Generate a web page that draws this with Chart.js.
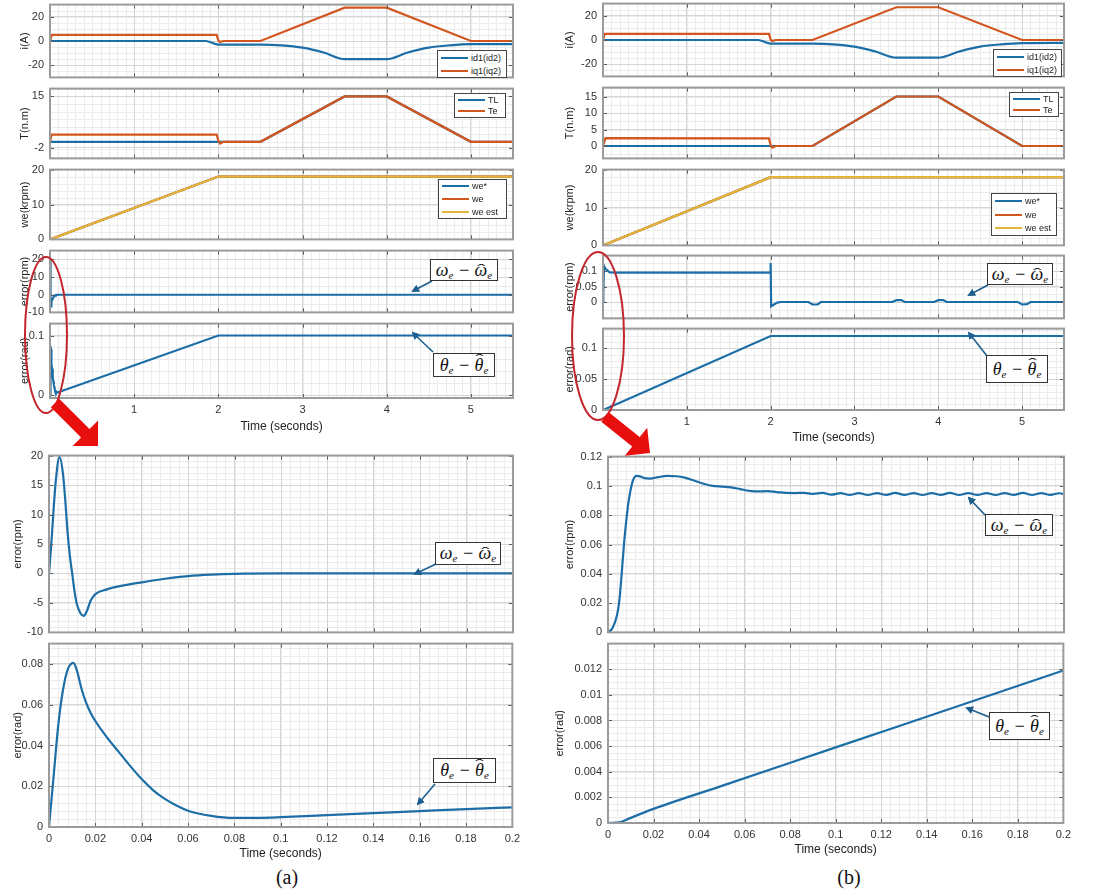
<!DOCTYPE html>
<html>
<head>
<meta charset="utf-8">
<script src="https://cdn.jsdelivr.net/npm/chart.js@4.4.1/dist/chart.umd.min.js"></script>
<style>
  body { margin: 0; width: 1105px; height: 896px; background: #fff; position: relative; overflow: hidden;
         font-family: "Liberation Sans", Arial, sans-serif; }
  canvas { position: absolute; }
  .leg { position: absolute; background: #fff; border: 1px solid #444; font-size: 9px; color: #222; box-sizing: border-box; }
  .leg div { position: absolute; left: 3px; right: 2px; height: 12px; line-height: 12px; }
  .leg i { position: absolute; left: 0; top: 5px; width: 27px; height: 2px; }
  .leg span { position: absolute; left: 30px; white-space: nowrap; }
  .eq { position: absolute; border: 1px solid #333; background: #fff; box-sizing: border-box; z-index: 3;
        font-family: "Liberation Serif", "DejaVu Serif", serif; font-style: italic; font-size: 18px; color: #111;
        text-align: center; white-space: nowrap; }
  .eq sub { font-size: 11px; vertical-align: -3px; line-height: 1; }
  .eq .h { position: relative; display: inline-block; line-height: 1; }
  .eq .h b { position: absolute; left: 0; right: 0; line-height: 1; text-align: center; font-weight: normal; font-style: normal;
             font-size: 15px; transform: scaleX(1.7); }
  .eq .hw b { top: 1px; }
  .eq .ht b { top: -4px; }
  .cap { position: absolute; font-family: "Liberation Serif", serif; font-size: 20px; color: #111; transform: translateX(-50%); }
  svg { position: absolute; left: 0; top: 0; z-index: 2; }
</style>
</head>
<body>
<script>
// ---- tick labels ----
const xTicksLong = [1, 2, 3, 4, 5];
const xTicksZoom = [0, 0.02, 0.04, 0.06, 0.08, 0.1, 0.12, 0.14, 0.16, 0.18, 0.2];

// ---- (a) full run, 0..5.5 s ----
const aId = [[0,0],[1.85,0],[2.0,-3],[2.5,-3],[2.75,-3.6],[3.0,-5.5],[3.25,-9.5],[3.5,-15],[4.0,-15],[4.25,-9.5],[4.5,-5.5],[4.75,-3.6],[5.0,-2.6],[5.5,-2.5]];
const aIq = [[0,0],[0.02,5],[1.98,5],[2.0,0.3],[2.02,-0.8],[2.06,0],[2.5,0],[3.5,27.5],[4.0,27.5],[5.0,0],[5.5,0]];
const aTL = [[0,0],[2.0,0],[2.5,0],[3.5,15],[4.0,15],[5.0,0],[5.5,0]];
const aTe = [[0,0],[0.02,2.4],[1.98,2.4],[2.0,0.3],[2.02,-0.6],[2.06,0],[2.5,0],[3.5,15],[4.0,15],[5.0,0],[5.5,0]];
const weRef = [[0,0],[2,18],[5.5,18]];
const weMeas = [[0,0],[2,18],[5.5,18]];
const weEst = [[0,0],[2,18],[5.5,18]];

// ---- (a) zoom, 0..0.2 s ----
const aErrWZoom = [[0,0],[0.001,5],[0.002,11],[0.003,16],[0.0045,19.8],[0.006,17],[0.007,12.5],[0.008,7],[0.009,3],[0.010,0],[0.011,-3],[0.012,-5.2],[0.0135,-6.7],[0.015,-7.2],[0.0165,-6.2],[0.018,-4.6],[0.02,-3.5],[0.025,-2.7],[0.03,-2.2],[0.04,-1.5],[0.05,-0.9],[0.06,-0.45],[0.07,-0.2],[0.08,-0.06],[0.1,0],[0.2,0]];
const aErrThZoom = [[0,0],[0.002,0.025],[0.004,0.05],[0.006,0.067],[0.008,0.077],[0.0105,0.0805],[0.012,0.077],[0.014,0.068],[0.016,0.061],[0.018,0.056],[0.02,0.052],[0.025,0.044],[0.03,0.037],[0.035,0.030],[0.04,0.0235],[0.045,0.018],[0.05,0.0138],[0.055,0.0105],[0.06,0.008],[0.07,0.0055],[0.08,0.0045],[0.09,0.0045],[0.1,0.0048],[0.12,0.0058],[0.14,0.0068],[0.16,0.0078],[0.18,0.0088],[0.2,0.0096]];
const aErrWLong = [...aErrWZoom, [5.5,0]];
const aErrThLong = [...aErrThZoom, [2,0.1],[5.5,0.1]];

// ---- (b) full run ----
const bId = [[0,0],[1.85,0],[2.0,-3],[2.5,-3],[2.75,-3.6],[3.0,-5.5],[3.25,-9.5],[3.5,-14.5],[4.0,-14.5],[4.25,-9.5],[4.5,-5.5],[4.75,-3.6],[5.0,-2.6],[5.5,-2.4]];
const bIq = [[0,0],[0.02,5],[1.98,5],[2.0,0.3],[2.02,-0.8],[2.06,0],[2.5,0],[3.5,27],[4.0,27],[5.0,0],[5.5,0]];
const bTL = [[0,0],[2.0,0],[2.5,0],[3.5,15],[4.0,15],[5.0,0],[5.5,0]];
const bTe = [[0,0],[0.03,2.4],[1.98,2.3],[2.0,0.3],[2.02,-0.5],[2.06,0],[2.5,0],[3.5,15],[4.0,15],[5.0,0],[5.5,0]];
const bErrWLong = [[0,0],[0.004,0.03],[0.012,0.117],[0.03,0.107],[0.08,0.096],[0.15,0.095],[1.995,0.095],[2.0,0.126],[2.006,-0.014],[2.04,-0.008],[2.08,-0.002],[2.12,0],[2.45,0],[2.5,-0.008],[2.56,-0.008],[2.6,0],[3.45,0],[3.5,0.006],[3.56,0.006],[3.6,0],[3.95,0],[4.0,0.006],[4.06,0.006],[4.1,0],[4.95,0],[5.0,-0.008],[5.06,-0.007],[5.1,0],[5.5,0]];

// ---- (b) zoom ----
const bErrWZoom = [[0,0],[0.002,0.003],[0.004,0.012],[0.005,0.022],[0.006,0.040],[0.007,0.060],[0.008,0.076],[0.009,0.089],[0.010,0.098],[0.011,0.104],[0.0125,0.1068],[0.014,0.1065],[0.016,0.1053],[0.0185,0.105],[0.022,0.106],[0.026,0.1068],[0.030,0.1066],[0.034,0.1055],[0.038,0.1035],[0.042,0.1015],[0.046,0.100],[0.05,0.0995],[0.054,0.099],[0.058,0.0978],[0.062,0.0966],[0.066,0.0962],[0.070,0.0964],[0.074,0.0958],[0.078,0.0952],[0.082,0.0951],[0.086,0.0953],[0.09,0.0946],[0.094,0.0952],[0.098,0.0940],[0.102,0.0951],[0.106,0.0939],[0.110,0.0951],[0.114,0.0938],[0.118,0.0951],[0.122,0.0939],[0.126,0.0952],[0.130,0.0939],[0.134,0.0951],[0.138,0.0938],[0.142,0.0951],[0.146,0.0939],[0.150,0.0952],[0.154,0.0938],[0.158,0.0951],[0.162,0.0939],[0.166,0.0951],[0.170,0.0938],[0.174,0.0951],[0.178,0.0939],[0.182,0.0952],[0.186,0.0938],[0.190,0.0951],[0.194,0.0939],[0.198,0.0950],[0.2,0.0944]];
const bErrThZoom = [[0,0],[0.003,0.00003],[0.006,0.0001],[0.01,0.0004],[0.02,0.0011],[0.05,0.0029],[0.1,0.0059],[0.15,0.0089],[0.2,0.0119]];
const bErrThLong = [...bErrThZoom, [2,0.12],[5.5,0.12]];

const BLUE = '#1c6ea6', ORANGE = '#d3561f', YELLOW = '#e5b53a';

Chart.defaults.font.family = '"Liberation Sans", Arial, sans-serif';

// grid, box and inward ticks in the style of a scope plot
const scopeAxes = {
  id: 'scopeAxes',
  beforeDraw(chart, args, o) {
    const { ctx, chartArea: a, scales: { x, y } } = chart;
    ctx.save();
    ctx.fillStyle = '#fff';
    ctx.fillRect(a.left, a.top, a.width, a.height);
    ctx.strokeStyle = '#ececec';
    ctx.lineWidth = 1;
    ctx.beginPath();
    for (let i = Math.ceil(x.min / o.mx); i * o.mx < x.max; i++) {
      const p = Math.round(x.getPixelForValue(i * o.mx)) + 0.5;
      ctx.moveTo(p, a.top); ctx.lineTo(p, a.bottom);
    }
    for (let i = Math.ceil(y.min / o.my); i * o.my < y.max; i++) {
      const p = Math.round(y.getPixelForValue(i * o.my)) + 0.5;
      ctx.moveTo(a.left, p); ctx.lineTo(a.right, p);
    }
    ctx.stroke();
    ctx.restore();
  },
  afterDraw(chart) {
    const { ctx, chartArea: a, scales: { x, y } } = chart;
    ctx.save();
    ctx.strokeStyle = '#5a5a5a';
    ctx.lineWidth = 1;
    ctx.beginPath();
    x.ticks.forEach(t => {
      const p = Math.round(x.getPixelForValue(t.value)) + 0.5;
      ctx.moveTo(p, a.bottom); ctx.lineTo(p, a.bottom - 4);
      ctx.moveTo(p, a.top); ctx.lineTo(p, a.top + 4);
    });
    y.ticks.forEach(t => {
      const p = Math.round(y.getPixelForValue(t.value)) + 0.5;
      ctx.moveTo(a.left, p); ctx.lineTo(a.left + 4, p);
      ctx.moveTo(a.right, p); ctx.lineTo(a.right - 4, p);
    });
    ctx.stroke();
    ctx.strokeStyle = '#9b9b9b';
    ctx.lineWidth = 2;
    ctx.strokeRect(a.left, a.top, a.width, a.height);
    ctx.restore();
  }
};

function plot(o) {
  const padT = 8, padB = o.xLabels ? 0 : 8, padR = 12;
  const L = o.titleX - 11;
  const axisW = o.left - L;
  const W = axisW + o.w + padR;
  const H = padT + o.h + (o.xLabels ? o.xAxisH : padB);
  const c = document.createElement('canvas');
  c.width = W; c.height = H;
  c.style.left = L + 'px'; c.style.top = (o.top - padT) + 'px';
  c.style.width = W + 'px'; c.style.height = H + 'px';
  document.body.appendChild(c);
  new Chart(c, {
    type: 'line',
    data: {
      // later series are drawn on top, as in the scope output
      datasets: o.series.map((s, k) => ({
        data: s.pts.map(p => ({ x: p[0], y: p[1] })),
        borderColor: s.color,
        borderWidth: 2.2,
        pointRadius: 0,
        fill: false,
        tension: 0,
        order: -k,
        cubicInterpolationMode: s.smooth ? 'monotone' : 'default'
      }))
    },
    options: {
      responsive: false,
      animation: false,
      events: [],
      layout: { padding: { top: padT, right: padR, bottom: padB, left: 0 } },
      plugins: {
        legend: { display: false },
        tooltip: { enabled: false },
        scopeAxes: { mx: o.mx, my: o.my }
      },
      scales: {
        x: {
          type: 'linear', min: o.xmin, max: o.xmax,
          afterBuildTicks: s => { s.ticks = o.xticks.map(v => ({ value: v })); },
          afterFit: s => { s.height = o.xLabels ? o.xAxisH : 0; },
          ticks: { display: !!o.xLabels, color: '#333', font: { size: 11 }, padding: 5, maxRotation: 0, autoSkip: false, callback: v => String(v) },
          title: { display: !!o.xLabels, text: 'Time (seconds)', color: '#222', font: { size: 12 }, padding: { top: 0, bottom: 4 } },
          grid: { color: '#d4d4d4', drawTicks: false },
          border: { display: false }
        },
        y: {
          type: 'linear', min: o.ymin, max: o.ymax,
          afterBuildTicks: s => { s.ticks = o.yticks.map(v => ({ value: v })); },
          afterFit: s => { s.width = axisW; },
          ticks: { color: '#333', font: { size: 11 }, padding: 6, autoSkip: false, callback: v => String(v) },
          title: { display: true, text: o.ylabel, color: '#222', font: { size: 11 }, padding: { top: 4, bottom: 0 } },
          grid: { color: '#d4d4d4', drawTicks: false },
          border: { display: false }
        }
      }
    },
    plugins: [scopeAxes]
  });
}

// ---------- column (a) ----------
const aL = 50, aW = 463;
plot({ left: aL, w: aW, top: 0, h: 82, titleX: 25, ylabel: 'i(A)', xmin: 0, xmax: 5.5, xticks: xTicksLong, ymin: -30, ymax: 30, yticks: [-20, 0, 20], mx: 0.1, my: 5,
  series: [{ pts: aId, color: BLUE, smooth: true }, { pts: aIq, color: ORANGE }] });
plot({ left: aL, w: aW, top: 84, h: 79, titleX: 25, ylabel: 'T(n.m)', xmin: 0, xmax: 5.5, xticks: xTicksLong, ymin: -5.5, ymax: 17.6, yticks: [-2, 15], mx: 0.1, my: 2.5,
  series: [{ pts: aTL, color: BLUE }, { pts: aTe, color: ORANGE }] });
plot({ left: aL, w: aW, top: 165, h: 79, titleX: 25, ylabel: 'we(krpm)', xmin: 0, xmax: 5.5, xticks: xTicksLong, ymin: 0, ymax: 20, yticks: [0, 10, 20], mx: 0.1, my: 2,
  series: [{ pts: weRef, color: BLUE }, { pts: weMeas, color: ORANGE }, { pts: weEst, color: YELLOW }] });
plot({ left: aL, w: aW, top: 246, h: 71, titleX: 25, ylabel: 'error(rpm)', xmin: 0, xmax: 5.5, xticks: xTicksLong, ymin: -10, ymax: 25, yticks: [-10, 0, 10, 20], mx: 0.1, my: 5,
  series: [{ pts: aErrWLong, color: BLUE }] });
plot({ left: aL, w: aW, top: 319, h: 79, titleX: 25, ylabel: 'error(rad)', xmin: 0, xmax: 5.5, xticks: xTicksLong, ymin: -0.005, ymax: 0.12, yticks: [0, 0.1], mx: 0.1, my: 0.02,
  xLabels: true, xAxisH: 40, series: [{ pts: aErrThLong, color: BLUE }] });
plot({ left: 49, w: 464, top: 451, h: 186, titleX: 18, ylabel: 'error(rpm)', xmin: 0, xmax: 0.2, xticks: xTicksZoom, ymin: -10, ymax: 20, yticks: [-10, -5, 0, 5, 10, 15, 20], mx: 0.004, my: 1,
  series: [{ pts: aErrWZoom, color: BLUE, smooth: true }] });
plot({ left: 49, w: 464, top: 639, h: 188, titleX: 18, ylabel: 'error(rad)', xmin: 0, xmax: 0.2, xticks: xTicksZoom, ymin: 0, ymax: 0.09, yticks: [0, 0.02, 0.04, 0.06, 0.08], mx: 0.004, my: 0.004,
  xLabels: true, xAxisH: 38, series: [{ pts: aErrThZoom, color: BLUE, smooth: true }] });

// ---------- column (b) ----------
const bL = 603, bW = 461;
plot({ left: bL, w: bW, top: -1, h: 82, titleX: 570, ylabel: 'i(A)', xmin: 0, xmax: 5.5, xticks: xTicksLong, ymin: -30, ymax: 30, yticks: [-20, 0, 20], mx: 0.1, my: 5,
  series: [{ pts: bId, color: BLUE, smooth: true }, { pts: bIq, color: ORANGE }] });
plot({ left: bL, w: bW, top: 83, h: 80, titleX: 570, ylabel: 'T(n.m)', xmin: 0, xmax: 5.5, xticks: xTicksLong, ymin: -3.75, ymax: 17.7, yticks: [0, 5, 10, 15], mx: 0.1, my: 2.5,
  series: [{ pts: bTL, color: BLUE }, { pts: bTe, color: ORANGE }] });
plot({ left: bL, w: bW, top: 165, h: 85, titleX: 570, ylabel: 'we(krpm)', xmin: 0, xmax: 5.5, xticks: xTicksLong, ymin: 0, ymax: 20, yticks: [0, 10, 20], mx: 0.1, my: 2,
  series: [{ pts: weRef, color: BLUE }, { pts: weMeas, color: ORANGE }, { pts: weEst, color: YELLOW }] });
plot({ left: bL, w: bW, top: 251, h: 72, titleX: 570, ylabel: 'error(rpm)', xmin: 0, xmax: 5.5, xticks: xTicksLong, ymin: -0.053, ymax: 0.15, yticks: [0, 0.05, 0.1], mx: 0.1, my: 0.025,
  series: [{ pts: bErrWLong, color: BLUE }] });
plot({ left: bL, w: bW, top: 324, h: 86, titleX: 570, ylabel: 'error(rad)', xmin: 0, xmax: 5.5, xticks: xTicksLong, ymin: 0, ymax: 0.132, yticks: [0, 0.05, 0.1], mx: 0.1, my: 0.01,
  xLabels: true, xAxisH: 39, series: [{ pts: bErrThLong, color: BLUE }] });
plot({ left: 608, w: 456, top: 452, h: 185, titleX: 570, ylabel: 'error(rpm)', xmin: 0, xmax: 0.2, xticks: xTicksZoom, ymin: 0, ymax: 0.12, yticks: [0, 0.02, 0.04, 0.06, 0.08, 0.1, 0.12], mx: 0.004, my: 0.005,
  series: [{ pts: bErrWZoom, color: BLUE, smooth: true }] });
plot({ left: 608, w: 456, top: 639, h: 184, titleX: 560, ylabel: 'error(rad)', xmin: 0, xmax: 0.2, xticks: xTicksZoom, ymin: 0, ymax: 0.014, yticks: [0, 0.002, 0.004, 0.006, 0.008, 0.01, 0.012], mx: 0.004, my: 0.0005,
  xLabels: true, xAxisH: 38, series: [{ pts: bErrThZoom, color: BLUE, smooth: true }] });

// ---------- legends ----------
function legend(x, y, w, h, items) {
  const d = document.createElement('div');
  d.className = 'leg';
  Object.assign(d.style, { left: x + 'px', top: y + 'px', width: w + 'px', height: h + 'px', zIndex: 3 });
  const rowH = (h - 2) / items.length;
  d.innerHTML = items.map((it, k) =>
    `<div style="top:${(k * rowH + (rowH - 12) / 2).toFixed(1)}px"><i style="background:${it[1]}"></i><span>${it[0]}</span></div>`).join('');
  document.body.appendChild(d);
}
legend(437, 50, 70, 28, [['id1(id2)', BLUE], ['iq1(iq2)', ORANGE]]);
legend(454, 93, 52, 25, [['TL', BLUE], ['Te', ORANGE]]);
legend(438, 179, 69, 40, [['we*', BLUE], ['we', ORANGE], ['we est', YELLOW]]);
legend(993, 49, 69, 28, [['id1(id2)', BLUE], ['iq1(iq2)', ORANGE]]);
legend(1009, 92, 50, 25, [['TL', BLUE], ['Te', ORANGE]]);
legend(991, 193, 66, 43, [['we*', BLUE], ['we', ORANGE], ['we est', YELLOW]]);

// ---------- equation labels ----------
const W_EQ = 'ω<sub>e</sub> − <span class="h hw">ω<b>ˆ</b></span><sub>e</sub>';
const TH_EQ = 'θ<sub>e</sub> − <span class="h ht">θ<b>ˆ</b></span><sub>e</sub>';
function eq(x, y, w, h, html) {
  const d = document.createElement('div');
  d.className = 'eq';
  Object.assign(d.style, { left: x + 'px', top: y + 'px', width: w + 'px', height: h + 'px', lineHeight: (h - 2) + 'px' });
  d.innerHTML = html;
  document.body.appendChild(d);
}
eq(430, 259, 68, 22, W_EQ);
eq(433, 353, 62, 24, TH_EQ);
eq(435, 542, 66, 23, W_EQ);
eq(433, 758, 63, 25, TH_EQ);
eq(987, 263, 66, 22, W_EQ);
eq(986, 355, 62, 28, TH_EQ);
eq(985, 514, 68, 22, W_EQ);
eq(989, 712, 61, 28, TH_EQ);

// ---------- arrows, red ellipses ----------
const arrows = [[432,281,413,291],[433,352,413,333],[436,564,415,574],[435,784,418,804],
                [988,285,969,295],[987,356,969,333],[985,515,969,498],[989,717,967,708]];
let svg = '<svg width="1105" height="896" xmlns="http://www.w3.org/2000/svg">' +
  '<defs><marker id="ah" markerWidth="8" markerHeight="8" refX="6" refY="4" orient="auto" markerUnits="userSpaceOnUse">' +
  '<path d="M0,0 L8,4 L0,8 z" fill="#1f5f8f"/></marker></defs>';
arrows.forEach(a => {
  svg += `<line x1="${a[0]}" y1="${a[1]}" x2="${a[2]}" y2="${a[3]}" stroke="#1f5f8f" stroke-width="1.6" marker-end="url(#ah)"/>`;
});
svg += '<ellipse cx="46" cy="335" rx="21" ry="78" fill="none" stroke="#c1272d" stroke-width="2"/>';
svg += '<ellipse cx="598" cy="336" rx="26" ry="84" fill="none" stroke="#c1272d" stroke-width="2"/>';
svg += '<polygon fill="#e8100f" points="50.8,407.2 59.2,398.8 89.5,429.1 98,420.6 98,446 72.6,446 81.1,437.5"/>';
svg += '<polygon fill="#e8100f" points="601.3,421.7 608.8,412.3 639.7,437.1 647.2,427.7 650,453 624.7,455.8 632.2,446.4"/>';
svg += '</svg>';
document.body.insertAdjacentHTML('beforeend', svg);

// captions
document.body.insertAdjacentHTML('beforeend',
  '<div class="cap" style="left:287px;top:866px">(a)</div><div class="cap" style="left:849px;top:866px">(b)</div>');
</script>
</body>
</html>
